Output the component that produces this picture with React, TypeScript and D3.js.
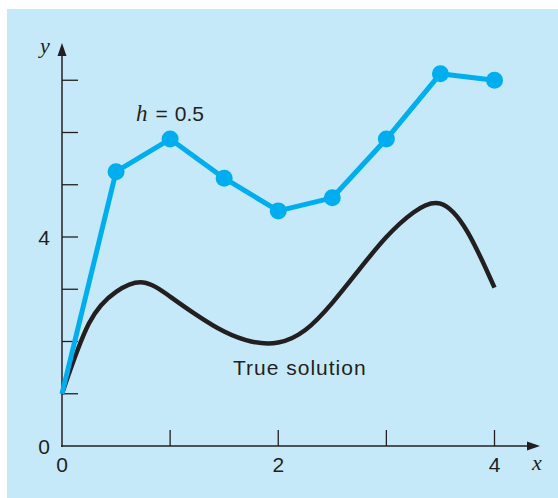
import React from "react";
import * as d3 from "d3";

const eulerX = [0, 0.5, 1, 1.5, 2, 2.5, 3, 3.5, 4];
const eulerY = [1, 5.25, 5.875, 5.125, 4.5, 4.75, 5.875, 7.125, 7.0];

const trueX = [0, 0.25, 0.5, 0.75, 1, 1.25, 1.5, 1.75, 2, 2.25, 2.5, 2.75, 3, 3.25, 3.5, 3.75, 4];
const trueY = [1.0, 2.35, 2.95, 3.13, 2.86, 2.5, 2.19, 2.0, 1.98, 2.22, 2.74, 3.38, 4.0, 4.47, 4.64, 4.1, 3.03];

const xTicks = [1, 2, 3, 4];
const xTickLabels = [0, 2, 4];
const yTicks = [1, 2, 3, 4, 5, 6, 7];
const yTickLabels = [0, 4];

const W = 558;
const H = 498;
const BG = "#c6e9f9";
const BLUE = "#00aeef";
const INK = "#231f20";
const AXIS = "#4d5359";

export default function App() {
  const x = d3.scaleLinear().domain([0, 4]).range([62, 494.5]);
  const y = d3.scaleLinear().domain([0, 4]).range([446, 237]);

  const euler = eulerX.map((v, i) => [v, eulerY[i]] as [number, number]);
  const truth = trueX.map((v, i) => [v, trueY[i]] as [number, number]);

  const line = d3
    .line<[number, number]>()
    .x((d) => x(d[0]))
    .y((d) => y(d[1]));
  const smooth = d3
    .line<[number, number]>()
    .x((d) => x(d[0]))
    .y((d) => y(d[1]))
    .curve(d3.curveNatural);

  const x0 = x(0);
  const y0 = y(0);
  const sans = "'Liberation Sans', Arial, sans-serif";
  const serif = "'Liberation Serif', 'Times New Roman', serif";

  return (
    <svg
      width={W}
      height={H}
      style={{ position: "absolute", left: 0, top: 0, display: "block" }}
    >
      <rect x={0} y={0} width={W} height={H} fill="#ffffff" />
      <rect x={7} y={9} width={W - 7} height={H - 9} fill={BG} />

      {/* y axis */}
      <line x1={x0} y1={y0 + 1} x2={x0} y2={52} stroke={AXIS} strokeWidth={2} />
      <path d={`M${x0},43 L${x0 - 4.5},56 L${x0 + 4.5},56 Z`} fill={INK} />
      {yTicks.map((t) => (
        <line key={t} x1={x0} x2={x0 + 16} y1={y(t)} y2={y(t)} stroke={INK} strokeWidth={1.3} />
      ))}
      {yTickLabels.map((t) => (
        <text
          key={t}
          x={50}
          y={y(t)}
          dy="0.36em"
          textAnchor="end"
          fontFamily={sans}
          fontSize={21}
          fill={INK}
        >
          {t}
        </text>
      ))}
      <text x={45} y={53} textAnchor="middle" fontFamily={serif} fontStyle="italic" fontSize={22} fill={INK}>
        y
      </text>

      {/* x axis */}
      <line x1={x0 - 1} y1={y0} x2={530} y2={y0} stroke={INK} strokeWidth={1.6} />
      <path d={`M540,${y0} L527,${y0 - 4.5} L527,${y0 + 4.5} Z`} fill={INK} />
      {xTicks.map((t) => (
        <line key={t} x1={x(t)} x2={x(t)} y1={y0} y2={y0 - 16} stroke={INK} strokeWidth={1.3} />
      ))}
      {xTickLabels.map((t) => (
        <text
          key={t}
          x={x(t)}
          y={472}
          textAnchor="middle"
          fontFamily={sans}
          fontSize={21}
          fill={INK}
        >
          {t}
        </text>
      ))}
      <text x={537} y={470} textAnchor="middle" fontFamily={serif} fontStyle="italic" fontSize={22} fill={INK}>
        x
      </text>

      {/* true solution */}
      <path d={smooth(truth) || ""} fill="none" stroke={INK} strokeWidth={4.5} strokeLinecap="butt" />

      {/* Euler */}
      <path d={line(euler) || ""} fill="none" stroke={BLUE} strokeWidth={5} strokeLinejoin="round" />
      {euler.slice(1).map((d, i) => (
        <circle key={i} cx={x(d[0])} cy={y(d[1])} r={8.5} fill={BLUE} />
      ))}

      {/* labels */}
      <text x={136} y={121} fontFamily={sans} fontSize={21} fill={INK}>
        <tspan fontFamily={serif} fontStyle="italic" fontSize={23}>h</tspan>
        <tspan dx={8}>=</tspan>
        <tspan dx={7}>0.5</tspan>
      </text>
      <text x={233} y={375} fontFamily={sans} fontSize={21} letterSpacing={1} fill={INK}>
        True solution
      </text>
    </svg>
  );
}
